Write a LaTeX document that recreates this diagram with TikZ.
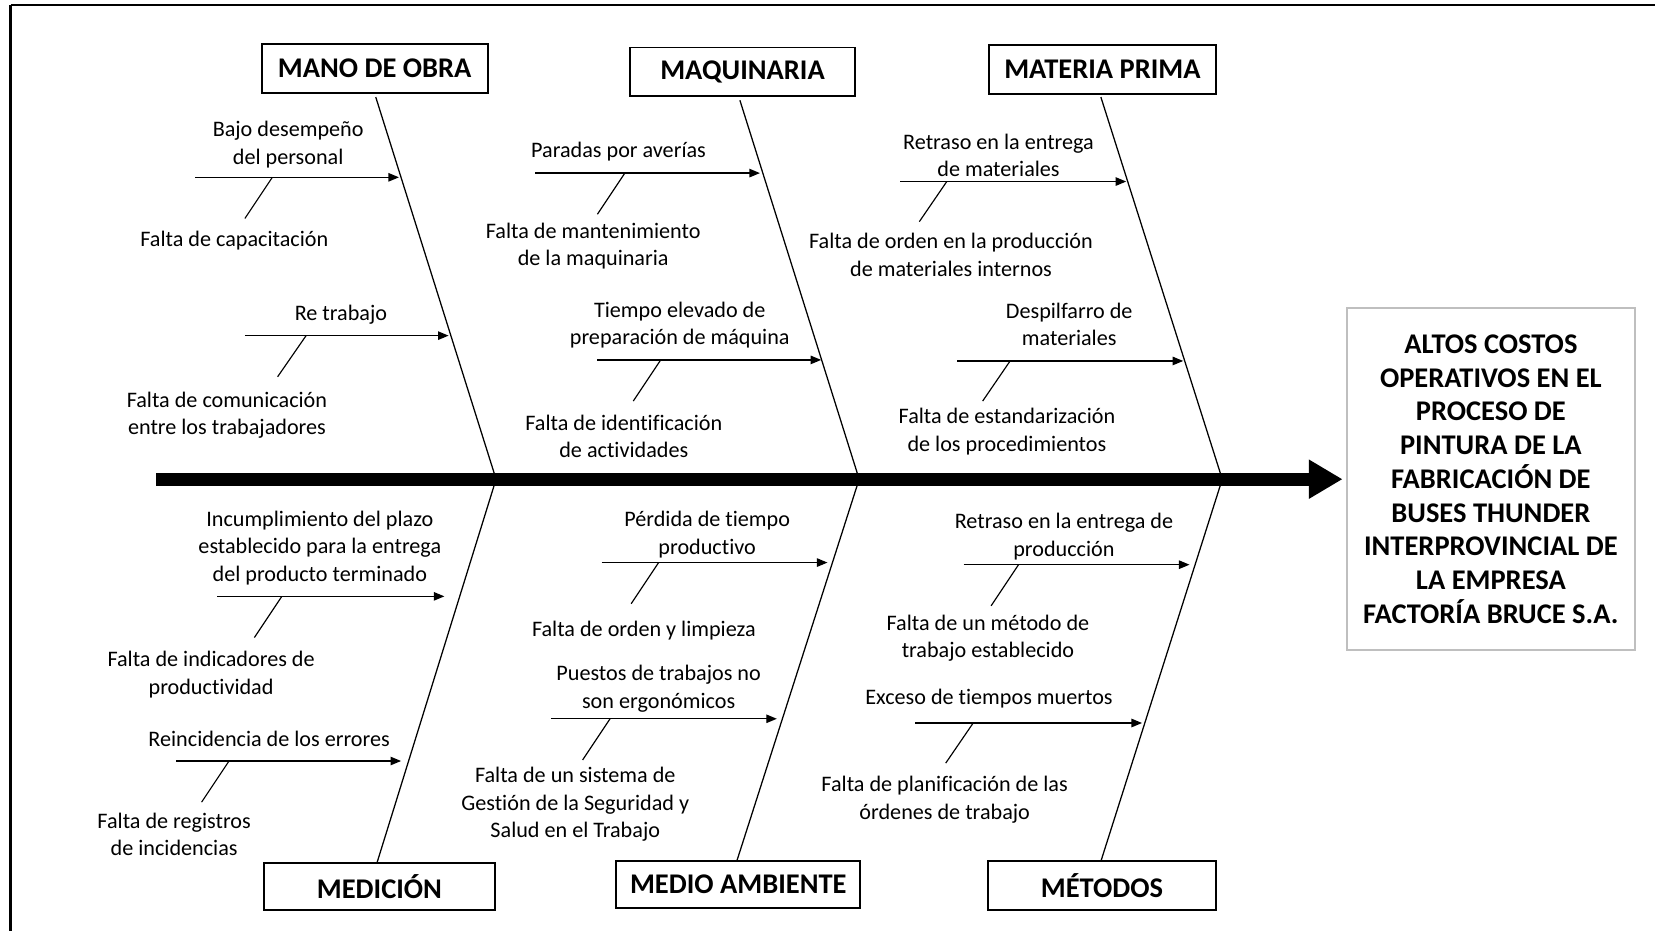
\documentclass[tikz,border=0pt]{standalone}
\usepackage{fontspec}
\setmainfont[Ligatures=NoCommon]{Carlito}
\usetikzlibrary{arrows.meta}
\begin{document}
\begin{tikzpicture}[x=0.5pt,y=-0.5pt,
  catbox/.style={draw=black,line width=0.9pt,fill=white,inner sep=0pt,
    minimum height=23pt,font=\bfseries\fontsize{13.5}{16}\selectfont},
  headbox/.style={draw=black!25,line width=0.7pt,fill=white,inner sep=0pt,
    minimum width=136.5pt,minimum height=162pt,align=center,
    font=\bfseries\fontsize{13.5}{16}\selectfont},
  bone/.style={line width=0.6pt},
  causearrow/.style={line width=0.6pt,-{Triangle[length=5pt,width=4pt]}},
  twig/.style={line width=0.55pt},
  lbl/.style={inner sep=0pt,align=center,yshift=-1pt,font=\fontsize{10.5}{13}\selectfont},
  spine/.style={line width=6pt,-{Triangle[length=16pt,width=17.5pt]}}]

\useasboundingbox (0,0) rectangle (1568,882);
% frame edges
\draw[line width=1pt] (10,5) -- (1568,5);
\draw[line width=1pt] (10,5) -- (10,882);

% category boxes
\node[catbox,minimum width=107pt]   (mano) at (355,65)    {MANO DE OBRA};
\node[catbox,minimum width=106.5pt] (maq)  at (703.5,68)  {MAQUINARIA};
\node[catbox,minimum width=107.5pt] (mat)  at (1044.5,66) {MATERIA PRIMA};
\node[catbox,minimum width=109.5pt,minimum height=22pt] (med) at (359.5,840) {MEDICIÓN};
\node[catbox,minimum width=115.5pt,minimum height=22pt] (amb) at (699.5,838) {\raisebox{-1pt}{MEDIO AMBIENTE}};
\node[catbox,minimum width=108pt] (met)  at (1044,839)   {MÉTODOS};

% effect box
\node[headbox] (efecto) at (1412.5,454) {ALTOS COSTOS\\OPERATIVOS EN EL\\PROCESO DE\\PINTURA DE LA\\FABRICACIÓN DE\\BUSES THUNDER\\INTERPROVINCIAL DE\\LA EMPRESA\\FACTORÍA BRUCE S.A.};

% junctions on the backbone
\coordinate (j1) at (470,454);
\coordinate (j2) at (814,454);
\coordinate (j3) at (1158,454);

% main bones
\coordinate (m1) at (356,92);
\coordinate (m2) at (701,95);
\coordinate (m3) at (1043,92);
\draw[bone] (m1) -- (j1);
\draw[bone] (m2) -- (j2);
\draw[bone] (m3) -- (j3);
\coordinate (n1) at (357,818);
\coordinate (n2) at (698,816);
\coordinate (n3) at (1043,816);
\draw[bone] (j1) -- (n1);
\draw[bone] (j2) -- (n2);
\draw[bone] (j3) -- (n3);

% backbone
\coordinate (tail) at (148,454);
\coordinate (head) at (1272,454);
\draw[spine] (tail) -- (head);

% ---- MANO DE OBRA ----
\coordinate (a1s) at (185,168); \coordinate (a1t) at (378,168);
\coordinate (a1d) at (258,168); \coordinate (a1e) at (232,207);
\draw[causearrow] (a1s) -- (a1t); \draw[twig] (a1d) -- (a1e);
\node[lbl] (c1) at (273,135) {Bajo desempeño\\del personal};
\node[lbl] (s1) at (222,226) {Falta de capacitación};

\coordinate (a2s) at (232,318); \coordinate (a2t) at (425,318);
\coordinate (a2d) at (290,318); \coordinate (a2e) at (263,357);
\draw[causearrow] (a2s) -- (a2t); \draw[twig] (a2d) -- (a2e);
\node[lbl] (c2) at (323,296) {Re trabajo};
\node[lbl] (s2) at (215,391.5) {Falta de comunicación\\entre los trabajadores};

% ---- MAQUINARIA ----
\coordinate (a3s) at (507,164); \coordinate (a3t) at (720,164);
\coordinate (a3d) at (592,164); \coordinate (a3e) at (566,203);
\draw[causearrow] (a3s) -- (a3t); \draw[twig] (a3d) -- (a3e);
\node[lbl] (c3) at (586,142) {Paradas por averías};
\node[lbl] (s3) at (562,231) {Falta de mantenimiento\\de la maquinaria};

\coordinate (a4s) at (566,341); \coordinate (a4t) at (778,341);
\coordinate (a4d) at (626,341); \coordinate (a4e) at (600,380);
\draw[causearrow] (a4s) -- (a4t); \draw[twig] (a4d) -- (a4e);
\node[lbl] (c4) at (644,306) {Tiempo elevado de\\preparación de máquina};
\node[lbl] (s4) at (591,411.5) {Falta de identificación\\de actividades};

% ---- MATERIA PRIMA ----
\coordinate (a5s) at (853,172); \coordinate (a5t) at (1067,172);
\coordinate (a5d) at (897,172); \coordinate (a5e) at (871,210);
\draw[causearrow] (a5s) -- (a5t); \draw[twig] (a5d) -- (a5e);
\node[lbl] (c5) at (946,145) {Retraso en la entrega\\de materiales};
\node[lbl] (s5) at (901,239.5) {Falta de orden en la producción\\de materiales internos};

\coordinate (a6s) at (907,342); \coordinate (a6t) at (1121,342);
\coordinate (a6d) at (957,342); \coordinate (a6e) at (931,380);
\draw[causearrow] (a6s) -- (a6t); \draw[twig] (a6d) -- (a6e);
\node[lbl] (c6) at (1013,305.5) {Despilfarro de\\materiales};
\node[lbl] (s6) at (954,407) {Falta de estandarización\\de los procedimientos};

% ---- MEDICIÓN ----
\coordinate (a7s) at (206,565); \coordinate (a7t) at (421,565);
\coordinate (a7d) at (267,565); \coordinate (a7e) at (241,604);
\draw[causearrow] (a7s) -- (a7t); \draw[twig] (a7d) -- (a7e);
\node[lbl] (c7) at (303,517) {Incumplimiento del plazo\\establecido para la entrega\\del producto terminado};
\node[lbl] (s7) at (200,637) {Falta de indicadores de\\productividad};

\coordinate (a8s) at (167,721); \coordinate (a8t) at (380,721);
\coordinate (a8d) at (217,721); \coordinate (a8e) at (191,760);
\draw[causearrow] (a8s) -- (a8t); \draw[twig] (a8d) -- (a8e);
\node[lbl] (c8) at (255,698) {Reincidencia de los errores};
\node[lbl] (s8) at (165,788.5) {Falta de registros\\de incidencias};

% ---- MEDIO AMBIENTE ----
\coordinate (a9s) at (570,533); \coordinate (a9t) at (784,533);
\coordinate (a9d) at (624,533); \coordinate (a9e) at (598,572);
\draw[causearrow] (a9s) -- (a9t); \draw[twig] (a9d) -- (a9e);
\node[lbl] (c9) at (670,504.5) {Pérdida de tiempo\\productivo};
\node[lbl] (s9) at (610,595) {Falta de orden y limpieza};

\coordinate (a10s) at (522,681); \coordinate (a10t) at (736,681);
\coordinate (a10d) at (578,681); \coordinate (a10e) at (552,720);
\draw[causearrow] (a10s) -- (a10t); \draw[twig] (a10d) -- (a10e);
\node[lbl] (c10) at (624,650.5) {Puestos de trabajos no\\son ergonómicos};
\node[lbl] (s10) at (545,760) {Falta de un sistema de\\Gestión de la Seguridad y\\Salud en el Trabajo};

% ---- MÉTODOS ----
\coordinate (a11s) at (913,535); \coordinate (a11t) at (1127,535);
\coordinate (a11d) at (965,535); \coordinate (a11e) at (939,574);
\draw[causearrow] (a11s) -- (a11t); \draw[twig] (a11d) -- (a11e);
\node[lbl] (c11) at (1008,506.5) {Retraso en la entrega de\\producción};
\node[lbl] (s11) at (936,602.5) {Falta de un método de\\trabajo establecido};

\coordinate (a12s) at (867,685); \coordinate (a12t) at (1082,685);
\coordinate (a12d) at (922,685); \coordinate (a12e) at (896,723);
\draw[causearrow] (a12s) -- (a12t); \draw[twig] (a12d) -- (a12e);
\node[lbl] (c12) at (937,660) {Exceso de tiempos muertos};
\node[lbl] (s12) at (895,755.5) {Falta de planificación de las\\órdenes de trabajo};

\end{tikzpicture}
\end{document}
